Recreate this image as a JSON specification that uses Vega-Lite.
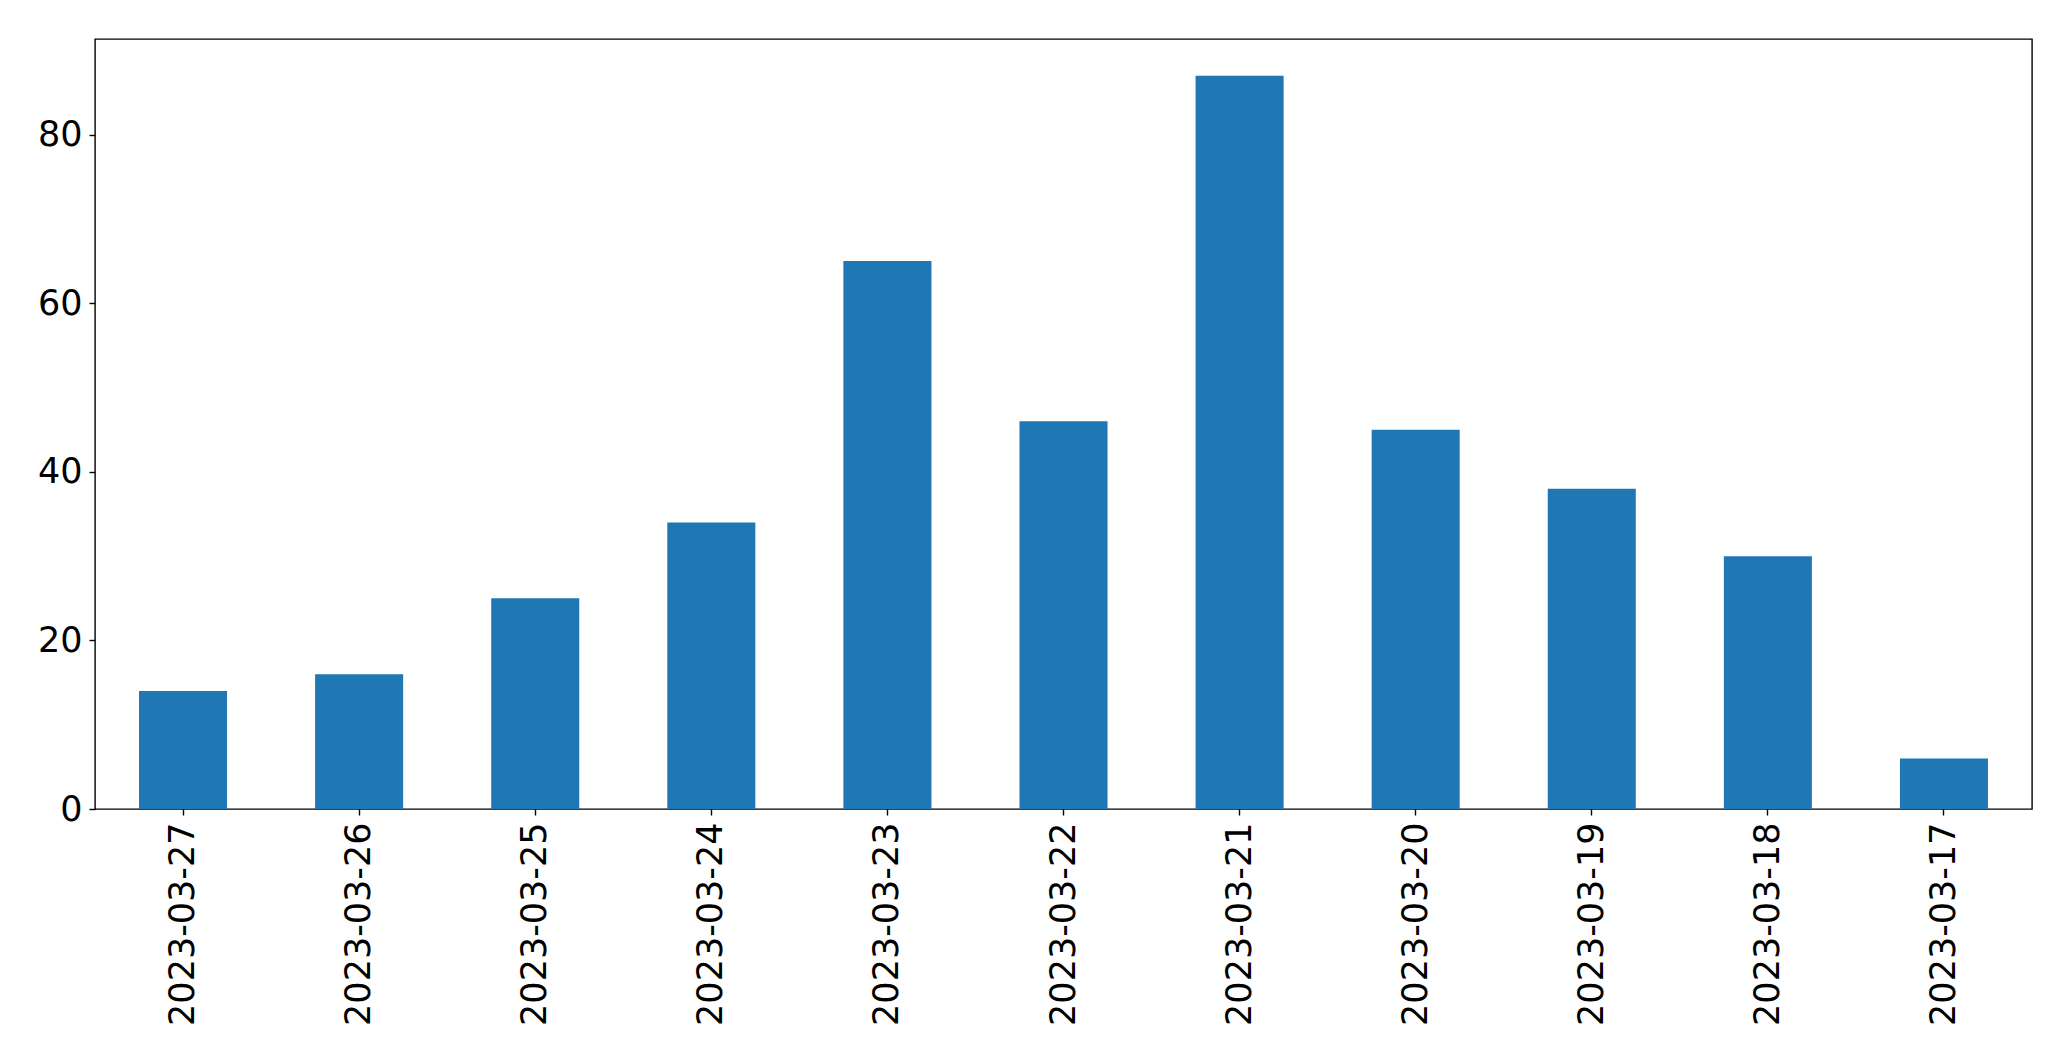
{
  "$schema": "https://vega.github.io/schema/vega-lite/v6.json",
  "autosize": "none",
  "width": 1937,
  "height": 770,
  "padding": {"left": 95, "top": 39, "right": 39, "bottom": 252},
  "background": "white",
  "config": {
    "view": {"stroke": "black", "strokeWidth": 1.4},
    "axis": {
      "labelFont": "DejaVu Sans",
      "labelFontSize": 35,
      "labelColor": "black",
      "labelLimit": 0,
      "tickColor": "black",
      "tickWidth": 1.4,
      "tickSize": 6,
      "domain": false,
      "grid": false,
      "title": null
    }
  },
  "data": {
    "values": [
      {"date": "2023-03-27", "count": 14},
      {"date": "2023-03-26", "count": 16},
      {"date": "2023-03-25", "count": 25},
      {"date": "2023-03-24", "count": 34},
      {"date": "2023-03-23", "count": 65},
      {"date": "2023-03-22", "count": 46},
      {"date": "2023-03-21", "count": 87},
      {"date": "2023-03-20", "count": 45},
      {"date": "2023-03-19", "count": 38},
      {"date": "2023-03-18", "count": 30},
      {"date": "2023-03-17", "count": 6}
    ]
  },
  "mark": {"type": "bar", "color": "#1f77b4"},
  "encoding": {
    "x": {
      "field": "date",
      "type": "nominal",
      "sort": null,
      "scale": {"paddingInner": 0.5, "paddingOuter": 0.25},
      "axis": {"labelAngle": -90, "labelAlign": "right", "labelBaseline": "middle", "labelPadding": 7}
    },
    "y": {
      "field": "count",
      "type": "quantitative",
      "scale": {"domain": [0, 91.35], "nice": false, "zero": true},
      "axis": {"values": [0, 20, 40, 60, 80], "labelPadding": 7}
    }
  }
}
